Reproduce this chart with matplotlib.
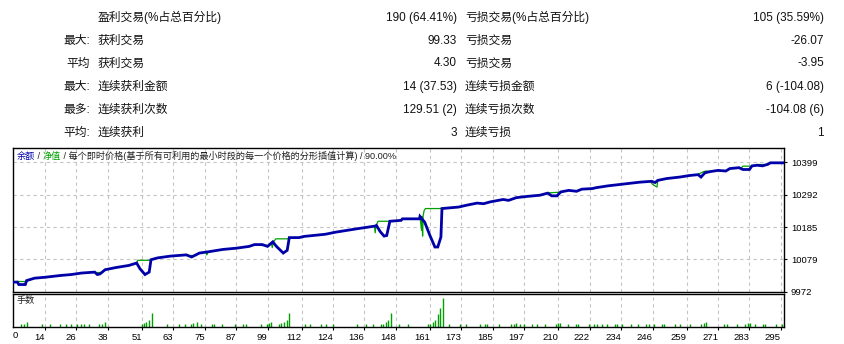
import matplotlib
matplotlib.use("Agg")
import matplotlib.pyplot as plt

plt.rcParams['font.family'] = ['Liberation Sans', 'Noto Sans CJK SC', 'DejaVu Sans']

# summary table
row_prefix = ['', '最大:', '平均', '最大:', '最多:', '平均:']
left_labels = ['盈利交易(%占总百分比)', '获利交易', '获利交易', '连续获利金额', '连续获利次数', '连续获利']
left_values = ['190 (64.41%)', '99.33', '4.30', '14 (37.53)', '129.51 (2)', '3']
right_labels = ['亏损交易(%占总百分比)', '亏损交易', '亏损交易', '连续亏损金额', '连续亏损次数', '连续亏损']
right_values = ['105 (35.59%)', '-26.07', '-3.95', '6 (-104.08)', '-104.08 (6)', '1']

# balance curve (trade index, balance)
bal_x = [0, 3.5, 4, 6.5, 7, 10, 14, 20, 24, 28, 33, 34, 35, 37, 41, 46, 49, 50.3, 52.2, 53.8,
         54.5, 57, 62, 68, 70, 73, 77, 82, 87, 92, 94, 97, 99, 101, 102.4, 105, 106.5, 107.3,
         111, 113, 121, 125, 133, 140, 140.6, 142, 143.5, 144.5, 145.7, 150, 150.5, 157,
         157.2, 159, 161, 162.9, 164, 165.2, 165.6, 172, 175, 179, 181.5, 184, 189, 191, 194,
         198, 203, 206, 207.5, 209.5, 211, 214, 217, 219, 223, 224.5, 229, 235, 241, 245.6,
         247, 248, 251.3, 256.4, 260, 263.4, 264.5, 266, 268, 271, 274, 275.5, 279, 280.5,
         283, 284, 286, 288, 290, 291, 296]
bal_y = [10003, 10003, 9995, 9995, 10008, 10016, 10019, 10025, 10028, 10033, 10036, 10028,
         10030, 10044, 10051, 10058, 10066, 10047, 10028, 10036,
         10077, 10083, 10089, 10093, 10086, 10099, 10104, 10111, 10115, 10121, 10127, 10127,
         10121, 10136, 10121, 10099, 10108, 10150,
         10150, 10154, 10161, 10168, 10179, 10188, 10190, 10170, 10155, 10157, 10204, 10207,
         10212, 10212,
         10220, 10201, 10157, 10119, 10119, 10152, 10246, 10251, 10257, 10264, 10262, 10268,
         10276, 10273, 10282,
         10286, 10290, 10297, 10288, 10288, 10301, 10306, 10303, 10310, 10312, 10315, 10321,
         10327, 10333, 10336,
         10332, 10339, 10345, 10350, 10355, 10358, 10350, 10364, 10368, 10372, 10370, 10378,
         10381, 10375,
         10375, 10387, 10389, 10387, 10392, 10397, 10397]

# equity where it leaves the balance line
equity_segments = [
    ([3, 6.8], [10007, 10007]),
    ([33, 35.5], [10036, 10036]),
    ([49, 49.4, 54.5], [10066, 10075, 10075]),
    ([69.5, 71.5], [10093, 10093]),
    ([75.5, 75.8, 76.2], [10100, 10093, 10100]),
    ([96.5, 99.5], [10127, 10127]),
    ([100.5, 100.8, 101.2, 102.2, 107.3], [10130, 10117, 10136, 10146, 10146]),
    ([139.8, 140.1, 140.4, 141.2, 146.3], [10188, 10166, 10190, 10204, 10204]),
    ([157.2, 157.8, 158.0, 158.2, 158.4, 158.8, 159.3, 165.6],
     [10220, 10174, 10220, 10155, 10222, 10240, 10246, 10246]),
    ([206.5, 210.8], [10298, 10300]),
    ([245.3, 246, 247.7, 248], [10334, 10326, 10317, 10339]),
    ([263.2, 265.5, 266.5, 268], [10358, 10368, 10370, 10368]),
    ([280, 280.5, 283.5], [10381, 10386, 10386]),
    ([286, 289.5], [10392, 10392]),
]

# lots per trade
lot_x = [5, 6, 7.3, 13, 16, 19.9, 22.1, 24.1, 26.1, 27.9, 29.1, 30.9, 34.7, 35.9, 37,
         50.9, 51.8, 52.7, 53.7, 54.7, 60.7, 65, 67.6, 69.8, 70.6, 71.9, 73.7, 77.6, 78.6,
         81.7, 86.6, 89.8, 90.6, 96.6, 98.6, 99.6, 100.4, 103.4, 104.3, 105.3, 106.4, 107.3,
         113.4, 115.3, 119.5, 121.5, 124, 133.2, 136.5, 139.3, 142.4, 143.1, 144.2, 145,
         146.1, 149.2, 152.8, 160.3, 161.2, 162.2, 163.1, 164.1, 165, 166, 168.2, 172.4,
         174.9, 180.3, 182.2, 182.9, 187.2, 192.1, 193, 193.9, 195.4, 196.9, 200.1, 201.9,
         205, 209, 209.8, 210.7, 213.9, 216.8, 217.6, 221.9, 223.6, 224.7, 226.6, 228.5,
         231.7, 232.6, 234.4, 237.7, 240.6, 243.5, 244.7, 246.6, 249.8, 250.5, 254.6, 256.5,
         260.3, 264.6, 265.5, 266.5, 273.4, 274.3, 278.1, 281.2, 282.3, 283.1, 285.1, 288.2,
         289.1, 293.2, 295.3]
lot_v = [0.01, 0.01, 0.017, 0.01, 0.01, 0.01, 0.01, 0.01, 0.01, 0.01, 0.01, 0.01, 0.01,
         0.01, 0.017,
         0.01, 0.012, 0.017, 0.025, 0.047, 0.01, 0.01, 0.01, 0.01, 0.012, 0.017, 0.01, 0.01,
         0.01,
         0.01, 0.01, 0.01, 0.01, 0.01, 0.01, 0.012, 0.017, 0.01, 0.012, 0.017, 0.025, 0.047,
         0.01, 0.01, 0.01, 0.01, 0.01, 0.01, 0.01, 0.01, 0.01, 0.01, 0.017, 0.025,
         0.047, 0.01, 0.01, 0.01, 0.011, 0.017, 0.025, 0.045, 0.065, 0.1, 0.01, 0.01,
         0.01, 0.01, 0.01, 0.01, 0.01, 0.01, 0.01, 0.014, 0.01, 0.01, 0.01, 0.01,
         0.01, 0.01, 0.012, 0.014, 0.01, 0.01, 0.01, 0.01, 0.01, 0.01, 0.01, 0.01,
         0.01, 0.01, 0.01, 0.01, 0.01, 0.01, 0.01, 0.01, 0.01, 0.01, 0.01, 0.01,
         0.01, 0.01, 0.012, 0.017, 0.01, 0.01, 0.01, 0.01, 0.012, 0.014, 0.01, 0.01,
         0.01, 0.01, 0.01]

x_ticks = [0, 14, 26, 38, 51, 63, 75, 87, 99, 112, 124, 136, 148, 161, 173, 185, 197, 210,
           222, 234, 246, 259, 271, 283, 295]
y_ticks = [9972, 10079, 10185, 10292, 10399]

BLUE = '#0000A8'
GREEN = '#00A000'
GRID = '#C4C4C4'
W, H = 844, 344

fig = plt.figure(figsize=(W / 100, H / 100), dpi=100)

def px_box(left, top, right, bottom):
    return [left / W, 1 - bottom / H, (right - left) / W, (bottom - top) / H]

# ---- table ----
row_y = [17.5, 41, 63.5, 87, 110, 133]
for i, yy in enumerate(row_y):
    fy = 1 - yy / H
    kw = dict(fontsize=8.5, color='#111111', va='center')
    fig.text(90 / W, fy, row_prefix[i], ha='right', **kw)
    fig.text(98 / W, fy, left_labels[i], ha='left', **kw)
    fig.text(457 / W, fy, left_values[i], ha='right', **kw)
    fig.text(465 / W, fy, right_labels[i], ha='left', **kw)
    fig.text(824 / W, fy, right_values[i], ha='right', **kw)

# ---- main chart ----
ax = fig.add_axes(px_box(13, 148, 784, 291.5))
ax.set_xlim(1.8, 296.2)
ax.set_ylim(9972, 10446)
for s in ax.spines.values():
    s.set_linewidth(1.0)
ax.set_xticks(x_ticks[1:])
ax.set_yticks(y_ticks)
ax.grid(True, color=GRID, linestyle=(0, (3, 3)), linewidth=0.8)
ax.tick_params(axis='x', length=0, labelbottom=False)
ax.yaxis.tick_right()
ax.tick_params(axis='y', length=2, pad=3, labelsize=6.8, colors='black')

for sx, sy in equity_segments:
    ax.plot(sx, sy, color=GREEN, linewidth=0.9, zorder=3)
ax.plot(bal_x, bal_y, color=BLUE, linewidth=2.0, zorder=4, solid_joinstyle='miter')

tkw = dict(fontsize=6.6, va='bottom', ha='left')
t = ax.text(0.005, 0.975, '余额', transform=ax.transAxes, color=BLUE,
            fontsize=6.6, va='top', ha='left')
for piece, col in [(' / ', '#222222'), ('净值', GREEN),
                   (' / 每个即时价格(基于所有可利用的最小时段的每一个价格的分形插值计算) / 90.00%', '#222222')]:
    t = ax.annotate(piece, xy=(1, 0), xycoords=t, color=col, **tkw)

# ---- lots panel ----
axv = fig.add_axes(px_box(13, 294, 784, 327))
axv.set_xlim(1.8, 296.2)
axv.set_ylim(0, 0.112)
for s in axv.spines.values():
    s.set_linewidth(1.0)
axv.vlines(lot_x, 0, lot_v, color=GREEN, linewidth=1.0)
axv.set_xticks(x_ticks[1:])
axv.set_xticklabels([str(v) for v in x_ticks[1:]], ha='right')
axv.set_yticks([])
axv.grid(True, axis='x', color=GRID, linestyle=(0, (3, 3)), linewidth=0.8)
axv.tick_params(axis='x', length=2, pad=2, labelsize=6.8)
axv.text(0.0, -0.12, str(x_ticks[0]), transform=axv.transAxes, fontsize=6.8,
         ha='left', va='top')
axv.text(0.005, 0.93, '手数', transform=axv.transAxes, fontsize=6.6,
         color='#222222', ha='left', va='top')

fig.savefig('out.png', dpi=100)
